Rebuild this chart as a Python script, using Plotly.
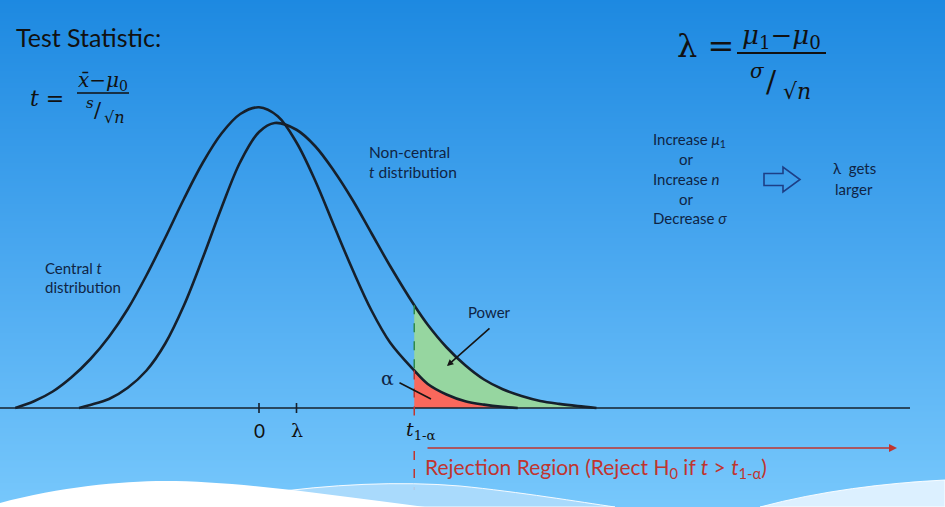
import plotly.graph_objects as go

# ---------------- data ----------------
# t-scale positions (0 at the central peak), density heights
CENTRAL_X = [-3.25, -3.0, -2.75, -2.5, -2.25, -2.0, -1.75, -1.5, -1.25, -1.0, -0.75, -0.5, -0.25,
             0.0, 0.25, 0.5, 0.75, 1.0, 1.25, 1.5, 1.75, 2.07, 2.25, 2.5, 2.75, 3.0, 3.25, 3.45]
CENTRAL_Y = [0.0, 0.009, 0.022, 0.041, 0.065, 0.095, 0.132, 0.177, 0.227, 0.279, 0.327, 0.366, 0.392,
             0.401, 0.389, 0.354, 0.303, 0.243, 0.184, 0.130, 0.087, 0.05, 0.032, 0.018, 0.009,
             0.0045, 0.0015, 0.0]

NONCENTRAL_X = [-2.4, -2.25, -2.0, -1.75, -1.5, -1.25, -1.0, -0.75, -0.5, -0.25, 0.0, 0.21, 0.5,
                0.75, 1.0, 1.25, 1.5, 1.75, 2.07, 2.25, 2.5, 2.75, 3.0, 3.25, 3.5, 3.75, 4.0,
                4.25, 4.5]
NONCENTRAL_Y = [0.0, 0.004, 0.012, 0.027, 0.05, 0.086, 0.137, 0.2, 0.267, 0.328, 0.368, 0.38, 0.371,
                0.349, 0.316, 0.277, 0.233, 0.189, 0.137, 0.111, 0.081, 0.057, 0.038, 0.025,
                0.016, 0.0094, 0.0055, 0.0025, 0.0]

LAMBDA = 0.5
T_CRIT = 2.07
TICK_VALUES = [0.0, LAMBDA, T_CRIT]
TICK_LABELS = ["0", "λ", "<i>t</i><sub>1-α</sub>"]

# ---------------- geometry helpers ----------------
W, H = 945, 507
X0_PX, X_SCALE = 259.0, 75.0      # px of t=0, px per t-unit
Y0_PX, Y_SCALE = 408.0, 750.0     # px of baseline, px per density unit
XR = [(0 - X0_PX) / X_SCALE, (W - X0_PX) / X_SCALE]
YR = [(Y0_PX - H) / Y_SCALE, Y0_PX / Y_SCALE]


def px(x):
    return x / W


def py(y):
    return 1 - y / H


CURVE = "#16202c"
NAVY = "#0f2444"
RED = "#c0352f"
SANS = "Lato, 'Open Sans', sans-serif"
SERIF = "'DejaVu Serif', 'Liberation Serif', serif"

fig = go.Figure()

# background gradient
fig.add_trace(go.Heatmap(
    x=[XR[0] - 1, XR[1] + 1], y=[-0.2, 0.6], z=[[0, 0], [1, 1]],
    colorscale=[[0, "rgb(128,206,254)"], [0.5, "rgb(74,168,240)"], [1, "rgb(22,132,222)"]],
    zsmooth="best", showscale=False, hoverinfo="skip"))

# fills
red_x = [T_CRIT] + [x for x in CENTRAL_X if x >= T_CRIT]
red_y = [0.0] + [y for x, y in zip(CENTRAL_X, CENTRAL_Y) if x >= T_CRIT]
fig.add_trace(go.Scatter(x=red_x, y=red_y, fill="toself", mode="lines",
                         fillcolor="rgb(250,104,92)", line=dict(width=0), hoverinfo="skip"))

nc_tail = [(x, y) for x, y in zip(NONCENTRAL_X, NONCENTRAL_Y) if x >= T_CRIT]
c_tail = [(x, y) for x, y in zip(CENTRAL_X, CENTRAL_Y) if x >= T_CRIT][::-1]
g_pts = nc_tail + c_tail
fig.add_trace(go.Scatter(x=[p[0] for p in g_pts], y=[p[1] for p in g_pts], fill="toself",
                         mode="lines", fillcolor="rgb(150,214,160)", line=dict(width=0),
                         hoverinfo="skip"))

# baseline
fig.add_trace(go.Scatter(x=[XR[0], (910 - X0_PX) / X_SCALE], y=[0, 0], mode="lines",
                         line=dict(color=CURVE, width=1.6), hoverinfo="skip"))

# curves
fig.add_trace(go.Scatter(x=CENTRAL_X, y=CENTRAL_Y, mode="lines",
                         line=dict(color=CURVE, width=2.6, shape="spline", smoothing=1.0),
                         hoverinfo="skip"))
fig.add_trace(go.Scatter(x=NONCENTRAL_X, y=NONCENTRAL_Y, mode="lines",
                         line=dict(color=CURVE, width=2.6, shape="spline", smoothing=1.0),
                         hoverinfo="skip"))

# dashed critical line
c_at = red_y[1]
nc_at = nc_tail[0][1]
fig.add_trace(go.Scatter(x=[T_CRIT, T_CRIT], y=[nc_at, c_at], mode="lines",
                         line=dict(color="#2f8a4a", width=1.5, dash="dash"), hoverinfo="skip"))
fig.add_trace(go.Scatter(x=[T_CRIT, T_CRIT, None, T_CRIT, T_CRIT],
                         y=[c_at, (Y0_PX - 418) / Y_SCALE, None,
                            (Y0_PX - 451) / Y_SCALE, (Y0_PX - 490) / Y_SCALE],
                         mode="lines", line=dict(color=RED, width=1.5, dash="dash"),
                         hoverinfo="skip"))

# tick marks
tx, ty = [], []
for v in TICK_VALUES[:2]:
    tx += [v, v, None]
    ty += [-5 / Y_SCALE, 5 / Y_SCALE, None]
fig.add_trace(go.Scatter(x=tx, y=ty, mode="lines", line=dict(color=CURVE, width=1.6),
                         hoverinfo="skip"))

annotations = []


def ann(text, x, y, size, color="#111111", xanchor="center", family=SANS, **kw):
    annotations.append(dict(text=text, x=px(x), y=py(y), xref="paper", yref="paper",
                            xanchor=xanchor, yanchor="middle", showarrow=False,
                            font=dict(size=size, color=color, family=family), **kw))


def arrow(x_head, y_head, x_tail, y_tail, color, head=2, size=1.0):
    annotations.append(dict(x=px(x_head), y=py(y_head), xref="paper", yref="paper",
                            ax=x_tail - x_head, ay=y_tail - y_head, axref="pixel", ayref="pixel",
                            showarrow=True, arrowhead=head, arrowsize=size, arrowwidth=1.6,
                            arrowcolor=color, text=""))


# tick labels
for v, lab in zip(TICK_VALUES, TICK_LABELS):
    annotations.append(dict(text=lab, x=v, y=(Y0_PX - 430) / Y_SCALE, xref="x", yref="y",
                            xanchor="center", yanchor="middle", showarrow=False,
                            xshift=(7 if "sub" in lab else 0),
                            font=dict(size=19, color="#111111",
                                      family=SERIF if lab != "0" else SANS)))

# test statistic
ann("Test Statistic:", 14, 37, 25, xanchor="left")
ann("<i>t</i> =", 28, 98, 22, family=SERIF, xanchor="left")
ann("<i>x̄</i>−<i>μ</i><sub>0</sub>", 103, 81, 20, family=SERIF)
ann("<i>s</i>", 90, 103, 15, family=SERIF)
ann("/", 98, 110, 21, family=SERIF)
ann("√<i>n</i>", 114, 117, 16, family=SERIF)

# lambda formula
ann("λ =", 675, 46, 32, family=SERIF, xanchor="left")
ann("<i>μ</i><sub>1</sub>−<i>μ</i><sub>0</sub>", 781, 36, 26, family=SERIF)
ann("<i>σ</i>", 757, 71, 20, family=SERIF)
ann("/", 771, 82, 30, family=SERIF)
ann("√<i>n</i>", 797, 91, 22, family=SERIF)

# increase / decrease block
ann("Increase <i>μ</i><sub>1</sub>", 651, 140, 15, NAVY, xanchor="left")
ann("or", 686, 159, 15, NAVY)
ann("Increase <i>n</i>", 651, 179, 15, NAVY, xanchor="left")
ann("or", 686, 199, 15, NAVY)
ann("Decrease <i>σ</i>", 651, 218, 15, NAVY, xanchor="left")
ann("λ  gets", 854, 168, 15, NAVY)
ann("larger", 854, 189, 15, NAVY)

# curve labels
ann("Non-central", 367, 152, 15.5, NAVY, xanchor="left")
ann("<i>t</i> distribution", 367, 172, 15.5, NAVY, xanchor="left")
ann("Central <i>t</i>", 43, 268, 15, NAVY, xanchor="left")
ann("distribution", 43, 287, 15, NAVY, xanchor="left")
ann("Power", 489, 312, 15, NAVY)
ann("α", 387, 378, 19, NAVY, family=SERIF)

# rejection region text
ann("Rejection Region (Reject H<sub>0</sub> if <i>t</i> &gt; <i>t</i><sub>1-α</sub>)", 423, 468,
    21, RED, xanchor="left")

# arrows
arrow(897, 448, 426, 448, RED, head=2, size=1.0)
arrow(447, 366, 491, 327, "#151515", head=2, size=0.8)
arrow(431, 399, 398, 382, "#151515", head=0)

shapes = [
    # fraction bars
    dict(type="line", xref="paper", yref="paper", x0=px(77), x1=px(129), y0=py(93), y1=py(93),
         line=dict(color="#111111", width=1.6)),
    dict(type="line", xref="paper", yref="paper", x0=px(737), x1=px(826), y0=py(53), y1=py(53),
         line=dict(color="#111111", width=2)),
    # hollow arrow
    dict(type="path", xref="paper", yref="paper",
         path=("M {},{} L {},{} L {},{} L {},{} L {},{} L {},{} L {},{} Z").format(
             px(764), py(173.5), px(783), py(173.5), px(783), py(167), px(800), py(179.5),
             px(783), py(192), px(783), py(185.5), px(764), py(185.5)),
         line=dict(color="#1d3f86", width=1.6), fillcolor="rgba(0,0,0,0)"),
    # bottom waves
    dict(type="path", xref="paper", yref="paper", layer="above",
         path="M {},{} C {},{} {},{} {},{} C {},{} {},{} {},{} L {},{} Z".format(
             px(262), py(494), px(330), py(484), px(400), py(481), px(460), py(486),
             px(520), py(492), px(580), py(502), px(615), py(507), px(262), py(507)),
         line=dict(color="rgba(255,255,255,0.9)", width=1), fillcolor="rgba(175,220,252,0.9)"),
    dict(type="path", xref="paper", yref="paper", layer="above",
         path="M {},{} L {},{} C {},{} {},{} {},{} C {},{} {},{} {},{} Z".format(
             px(0), py(507), px(0), py(503), px(60), py(487), px(120), py(481), px(165), py(481),
             px(240), py(481), px(340), py(496), px(425), py(507)),
         line=dict(width=0), fillcolor="#ffffff"),
    dict(type="path", xref="paper", yref="paper", layer="above",
         path="M {},{} C {},{} {},{} {},{} L {},{} Z".format(
             px(760), py(507), px(820), py(491), px(885), py(483), px(945), py(480),
             px(945), py(507)),
         line=dict(color="rgba(255,255,255,0.9)", width=1), fillcolor="rgba(225,242,255,0.95)"),
]

fig.update_layout(
    width=W, height=H, margin=dict(l=0, r=0, t=0, b=0),
    showlegend=False, paper_bgcolor="#4aa8f0", plot_bgcolor="#4aa8f0",
    xaxis=dict(range=XR, visible=False, fixedrange=True),
    yaxis=dict(range=YR, visible=False, fixedrange=True),
    annotations=annotations, shapes=shapes,
)

fig.write_html("out.html", config={"displayModeBar": False},
               post_script="document.body.style.margin='0';document.body.style.overflow='hidden';")
